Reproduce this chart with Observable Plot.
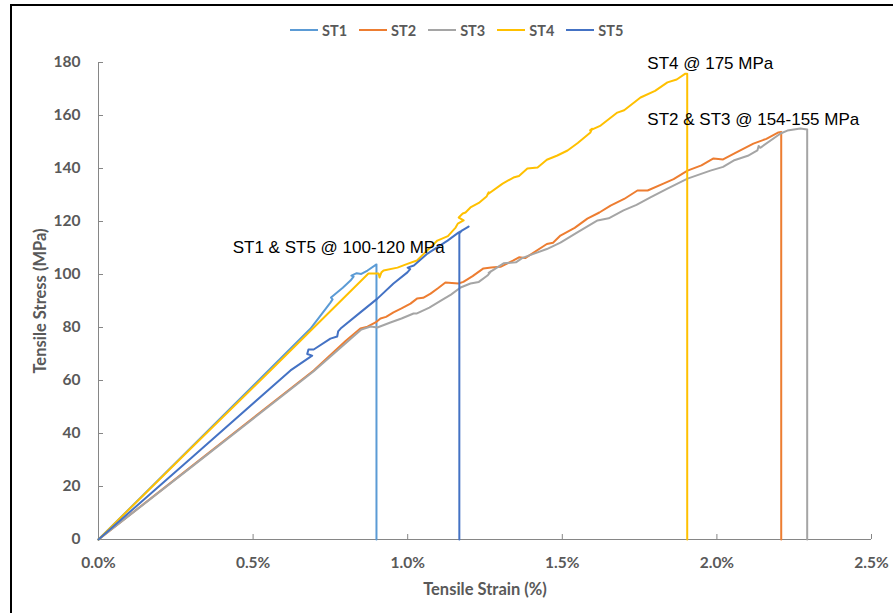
<!DOCTYPE html>
<html><head><meta charset="utf-8">
<script src="https://cdn.jsdelivr.net/npm/d3@7"></script>
<script src="https://cdn.jsdelivr.net/npm/@observablehq/plot@0.6"></script>
<style>
body{margin:0;background:#fff;width:893px;height:613px;overflow:hidden;position:relative;font-family:Lato,sans-serif}
#frame{position:absolute;left:10px;top:4px;width:2000px;height:2000px;border-left:2px solid #000;border-top:2px solid #000;pointer-events:none}
#legend{height:50px;position:relative;display:flex;align-items:center;padding-left:290px;gap:12px;box-sizing:border-box;padding-top:10px}
.item{display:flex;align-items:center;font:bold 14.5px Lato,sans-serif;color:#595959}
.sw{width:28px;height:2px;margin-right:4px}
#chart svg{display:block}
</style></head><body>
<div id="frame"></div>
<div id="legend"></div>
<div id="chart"></div>
<script>
// series names and colours
const seriesNames = ["ST1", "ST2", "ST3", "ST4", "ST5"];
const seriesColors = ["#5B9BD5", "#ED7D31", "#A5A5A5", "#FFC000", "#4472C4"];

// strain (%) and stress (MPa)
const st1Strain = [0, 0.686, 0.676, 0.750, 0.757, 0.752, 0.790, 0.815, 0.825, 0.818, 0.835, 0.850, 0.870, 0.899, 0.899];
const st1Stress = [0, 79.6, 78.1, 89.4, 90.6, 91.3, 95.0, 97.7, 99.2, 99.6, 100.5, 100.2, 101.5, 103.8, 0];

const st2Strain = [0, 0.30, 0.696, 0.80, 0.847, 0.870, 0.896, 0.912, 0.930, 0.954, 0.980, 1.009, 1.03, 1.050, 1.074, 1.100, 1.122, 1.164, 1.18, 1.210, 1.245, 1.270, 1.30, 1.342, 1.36, 1.38, 1.45, 1.47, 1.494, 1.540, 1.581, 1.620, 1.656, 1.700, 1.743, 1.776, 1.827, 1.860, 1.905, 1.950, 1.989, 2.02, 2.060, 2.118, 2.160, 2.199, 2.208, 2.208];
const st2Stress = [0, 27.5, 63.8, 75.0, 79.6, 80.3, 81.9, 83.4, 84.0, 85.7, 87.2, 89.0, 90.9, 91.2, 92.8, 95.0, 97.0, 96.6, 97.2, 99.4, 102.3, 102.6, 102.9, 105.3, 106.5, 106.2, 111.5, 112.0, 114.7, 117.6, 121.1, 123.4, 126.0, 128.5, 131.7, 131.7, 134.3, 136.0, 139.2, 141.2, 143.8, 143.4, 145.9, 149.4, 151.2, 153.6, 153.8, 0];

const st3Strain = [0, 0.30, 0.696, 0.85, 0.880, 0.902, 0.944, 0.980, 1.019, 1.03, 1.070, 1.11, 1.140, 1.171, 1.203, 1.230, 1.258, 1.27, 1.262, 1.31, 1.35, 1.37, 1.40, 1.45, 1.494, 1.550, 1.614, 1.650, 1.698, 1.740, 1.785, 1.840, 1.905, 1.979, 2.020, 2.054, 2.100, 2.131, 2.135, 2.140, 2.206, 2.228, 2.27, 2.292, 2.292];
const st3Stress = [0, 27.3, 63.5, 79.2, 80.4, 80.0, 81.9, 83.4, 85.3, 85.3, 87.5, 90.3, 92.4, 95.1, 96.6, 97.2, 99.6, 101.3, 100.6, 104.2, 104.6, 106.2, 107.5, 109.6, 112.0, 116.0, 120.4, 121.2, 124.2, 126.3, 129.1, 132.4, 136.2, 139.2, 140.6, 143.0, 144.8, 146.8, 148.5, 147.8, 153.2, 154.3, 155.1, 154.7, 0];

const st4Strain = [0, 0.30, 0.556, 0.873, 0.906, 0.909, 0.915, 0.922, 0.967, 0.999, 1.03, 1.096, 1.13, 1.155, 1.162, 1.181, 1.165, 1.178, 1.187, 1.203, 1.230, 1.255, 1.262, 1.258, 1.307, 1.342, 1.360, 1.387, 1.42, 1.450, 1.484, 1.517, 1.550, 1.591, 1.596, 1.590, 1.624, 1.678, 1.700, 1.753, 1.800, 1.84, 1.870, 1.898, 1.904, 1.904];
const st4Stress = [0, 34.5, 63.8, 100.4, 100.4, 98.9, 100.8, 101.5, 102.6, 104.0, 105.3, 112.8, 114.5, 117.7, 119.2, 120.4, 121.5, 123.0, 123.4, 125.3, 127.0, 129.4, 131.0, 130.2, 134.3, 136.6, 137.2, 140.0, 140.4, 143.3, 144.9, 146.8, 149.6, 153.6, 155.0, 154.4, 156.2, 161.1, 162.0, 166.8, 169.3, 172.5, 173.6, 175.8, 175.8, 0];

const st5Strain = [0, 0.30, 0.621, 0.691, 0.675, 0.679, 0.696, 0.750, 0.772, 0.775, 0.783, 0.847, 0.902, 0.954, 0.999, 1.008, 1.000, 1.020, 1.064, 1.129, 1.164, 1.197, 1.175, 1.167, 1.167];
const st5Stress = [0, 30.8, 63.8, 69.4, 70.0, 71.7, 71.7, 75.8, 76.6, 78.5, 79.6, 85.7, 90.9, 96.6, 100.8, 102.0, 102.6, 103.4, 107.9, 112.8, 115.8, 118.1, 116.6, 115.5, 0];

// annotations
const noteText = ["ST1 & ST5 @ 100-120 MPa", "ST4 @ 175 MPa", "ST2 & ST3 @ 154-155 MPa"];
const noteStrain = [0.434, 1.775, 1.775];
const noteStress = [110.0, 179.6, 158.5];

// axis ticks
const xTicks = [0, 0.5, 1.0, 1.5, 2.0, 2.5];
const yTicks = [0, 20, 40, 60, 80, 100, 120, 140, 160, 180];

const strains = [st1Strain, st2Strain, st3Strain, st4Strain, st5Strain];
const stresses = [st1Stress, st2Stress, st3Stress, st4Stress, st5Stress];
const rows = [];
seriesNames.forEach((s, k) => strains[k].forEach((v, i) => rows.push({series: s, strain: v, stress: stresses[k][i]})));
const notes = noteText.map((t, i) => ({text: t, strain: noteStrain[i], stress: noteStress[i]}));

// legend
const lg = document.getElementById("legend");
seriesNames.forEach((s, i) => {
  const it = document.createElement("div"); it.className = "item";
  const sw = document.createElement("span"); sw.className = "sw"; sw.style.background = seriesColors[i];
  it.appendChild(sw); it.appendChild(document.createTextNode(s)); lg.appendChild(it);
});

const axisColor = "#868686";
const chart = Plot.plot({
  width: 893, height: 563,
  marginLeft: 98, marginRight: 22, marginTop: 12, marginBottom: 74,
  style: {fontFamily: "Lato, sans-serif", fontSize: "15.5px", fontWeight: "bold", color: "#595959", background: "transparent", overflow: "visible"},
  x: {domain: [0, 2.5]},
  y: {domain: [0, 180]},
  color: {domain: seriesNames, range: seriesColors},
  marks: [
    Plot.axisX(xTicks, {tickSize: 0, tickPadding: 17, tickFormat: d => d.toFixed(1) + "%", label: null}),
    Plot.axisX({ticks: [], tickSize: 0, label: "Tensile Strain (%)", labelAnchor: "center", labelOffset: 55, labelArrow: "none", fontSize: 16.5}),
    Plot.axisY(yTicks, {tickSize: 0, tickPadding: 18, label: null}),
    Plot.axisY({ticks: [], tickSize: 0, label: "Tensile Stress (MPa)", labelAnchor: "center", labelOffset: 64, labelArrow: "none", fontSize: 16.5}),
    Plot.ruleY([0], {stroke: axisColor}),
    Plot.ruleX([0], {stroke: axisColor}),
    Plot.ruleX(xTicks, {y1: 0, y2: 0, insetTop: -5, stroke: axisColor}),
    Plot.ruleY(yTicks, {x1: 0, x2: 0, insetRight: -5, stroke: axisColor}),
    Plot.line(rows, {x: "strain", y: "stress", z: "series", stroke: "series", strokeWidth: 2, curve: "linear"}),
    Plot.text(notes, {x: "strain", y: "stress", text: "text", textAnchor: "start", fontFamily: "'Liberation Sans', Arial, sans-serif", fontSize: 17, fontWeight: "normal", fill: "#000"})
  ]
});
document.getElementById("chart").appendChild(chart);
</script>
</body></html>
